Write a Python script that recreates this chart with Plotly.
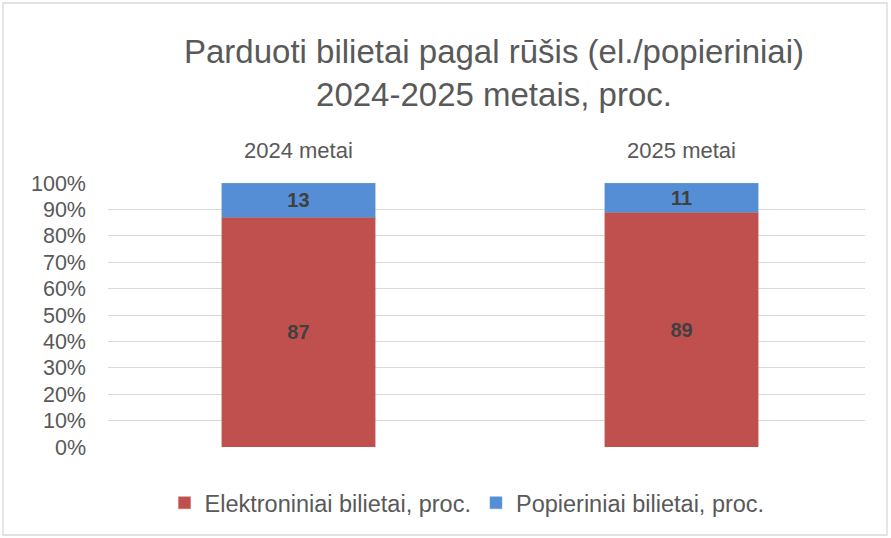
import plotly.graph_objects as go

categories = ["2024 metai", "2025 metai"]
electronic = [87, 89]
paper = [13, 11]
series_names = ["Elektroniniai bilietai, proc.", "Popieriniai bilietai, proc."]
tick_values = [0, 10, 20, 30, 40, 50, 60, 70, 80, 90, 100]
tick_labels = [f"{v}%" for v in tick_values]

W, H = 891, 538
L, R, T, B = 108, 26, 183, 91
pw, ph = W - L - R, H - T - B

font_fam = "Liberation Sans, Arial, sans-serif"
lab_font = "Liberation Sans, Arial, sans-serif"

fig = go.Figure()
fig.add_trace(go.Bar(
    x=[0, 1], y=electronic, name=series_names[0], width=0.4,
    marker=dict(color="#C0504D", line=dict(color="#C86B68", width=0.5)),
    text=electronic, textposition="inside", insidetextanchor="middle",
    textfont=dict(family=lab_font, size=20, color="#404040", weight="bold"),
))
fig.add_trace(go.Bar(
    x=[0, 1], y=paper, name=series_names[1], width=0.4,
    marker=dict(color="#558ED5", line=dict(color="#6E9FDB", width=0.5)),
    text=paper, textposition="inside", insidetextanchor="middle",
    textfont=dict(family=lab_font, size=20, color="#404040", weight="bold"),
))

def px_x(x):
    return (x - L) / pw

def px_y(y):
    return (H - B - y) / ph

fig.update_layout(
    width=W, height=H,
    barmode="stack",
    margin=dict(l=L, r=R, t=T, b=B),
    paper_bgcolor="white", plot_bgcolor="white",
    title=dict(
        text="Parduoti bilietai pagal rūšis (el./popieriniai)<br>2024-2025 metais, proc.",
        x=494 / W, xanchor="center", y=1 - 63 / H, yanchor="middle",
        font=dict(family=font_fam, size=33, color="#595959"),
    ),
    xaxis=dict(
        side="top", showgrid=False, showline=False, ticks="",
        range=[-0.497, 1.479],
        tickvals=[0, 1], ticktext=categories,
        tickfont=dict(family=lab_font, size=22, color="#595959"),
        ticklabelstandoff=20,
    ),
    yaxis=dict(
        range=[0, 100], tickvals=tick_values, ticktext=tick_labels,
        showgrid=True, gridcolor="#D9D9D9", gridwidth=1.3,
        zeroline=False, showline=False, ticks="",
        tickfont=dict(family=lab_font, size=21.5, color="#595959"),
        ticklabelstandoff=21,
    ),
    showlegend=True,
    legend=dict(
        orientation="h", x=px_x(467), xanchor="center",
        y=px_y(503), yanchor="middle",
        font=dict(family=font_fam, size=23.5, color="#595959"),
        traceorder="normal", itemwidth=30,
    ),
)

fig.add_shape(
    type="rect", xref="paper", yref="paper",
    x0=px_x(3), x1=px_x(887), y0=px_y(535), y1=px_y(3),
    line=dict(color="#D9D9D9", width=1.3), fillcolor="rgba(0,0,0,0)",
    layer="below",
)

fig.write_html("out.html", config={"displayModeBar": False},
               post_script="document.body.style.margin='0';")
